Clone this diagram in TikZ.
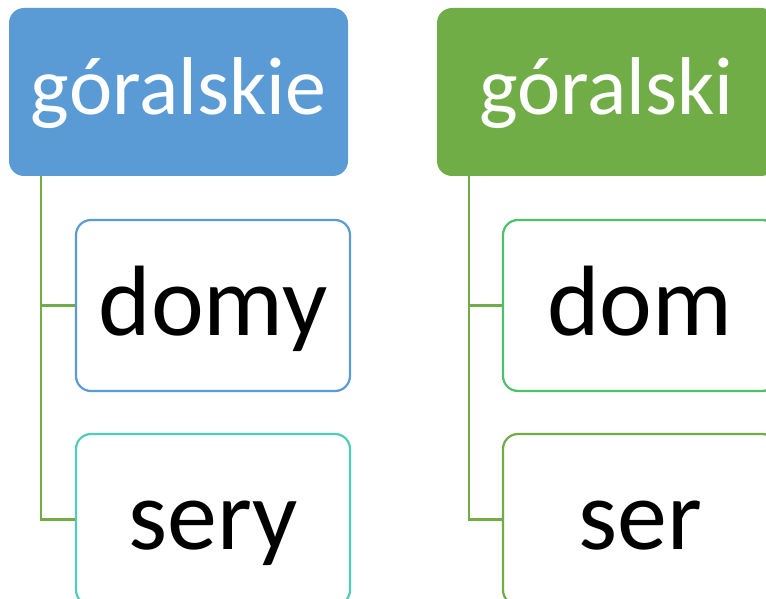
\documentclass[tikz,border=0pt]{standalone}
\usepackage{fontspec}
\setmainfont{Carlito}
\definecolor{hblue}{HTML}{5B9BD5}
\definecolor{hgreen}{HTML}{70AD47}
\definecolor{cteal}{HTML}{4FCDB9}
\definecolor{cgreen}{HTML}{4EC06C}
\begin{document}
\begin{tikzpicture}[x=1pt,y=-1pt,
  headbox/.style={rounded corners=15pt, minimum width=339pt, minimum height=168pt, inner sep=0pt,
    text=white, font=\fontsize{82}{90}\selectfont, text height=57pt, text depth=12pt},
  childbox/.style={draw, line width=2.2pt, fill=white, rounded corners=15pt, minimum width=274pt, minimum height=171pt, inner sep=0pt,
    text=black, font=\fontsize{100}{110}\selectfont, text height=70pt, text depth=11pt},
  conn/.style={draw=hgreen, line width=2.2pt}]
\useasboundingbox (0,0) rectangle (766,599);
\node[headbox, fill=hblue] (h1) at (178.5,92) {góralskie};
\node[childbox, draw=hblue] (c1) at (213,305.5) {domy};
\node[childbox, draw=cteal] (c2) at (213,519.5) {sery};
\coordinate (t1) at (41,176);
\draw[conn] (t1) |- (c2.west);
\draw[conn] (t1) |- (c1.west);
\node[headbox, fill=hgreen] (h2) at (606.5,92) {góralski};
\node[childbox, draw=cgreen] (c3) at (640,305.5) {dom};
\node[childbox, draw=hgreen] (c4) at (640,519.5) {ser};
\coordinate (t2) at (469,176);
\draw[conn] (t2) |- (c4.west);
\draw[conn] (t2) |- (c3.west);
\end{tikzpicture}
\end{document}
